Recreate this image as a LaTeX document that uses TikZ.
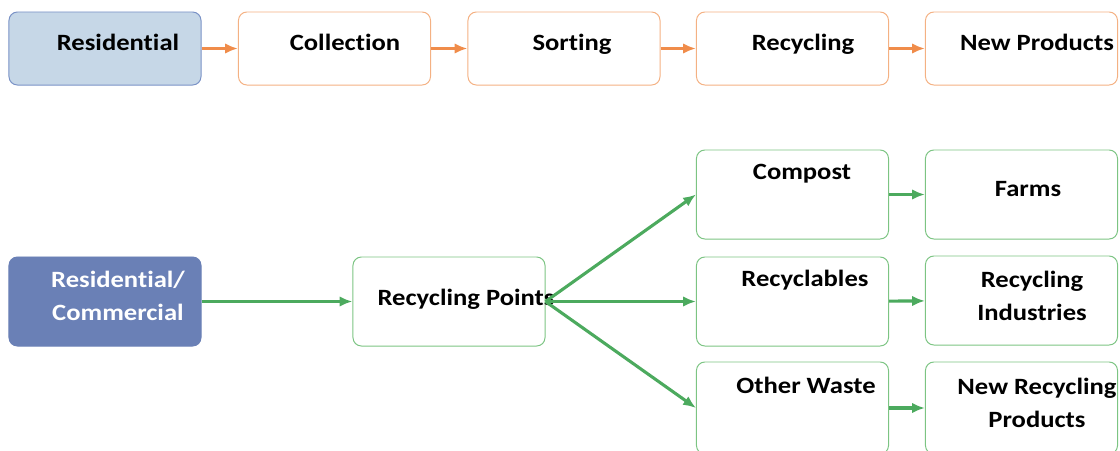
\documentclass[tikz,border=0pt]{standalone}
\usepackage{fontspec}
\setmainfont{Carlito}[FakeStretch=1.14, Ligatures=NoCommon]
\usepackage{tikz}
\usetikzlibrary{arrows.meta,positioning,calc}
\definecolor{boxorange}{HTML}{F4B183}
\definecolor{arrorange}{HTML}{F08C4A}
\definecolor{boxgreen}{HTML}{7CC483}
\definecolor{arrgreen}{HTML}{4CAA5E}
\definecolor{lightblue}{HTML}{C6D7E7}
\definecolor{boxblue}{HTML}{7A92C6}
\definecolor{darkblue}{HTML}{6A80B6}

\begin{document}
\begin{tikzpicture}[
  x=0.025cm, y=-0.025cm,
  font=\fontsize{16.6}{23.5}\selectfont\bfseries,
  box/.style={draw, rounded corners=6pt, line width=0.7pt, minimum width=4.8cm, inner sep=0pt},
  topbox/.style={box, draw=boxorange, minimum height=1.825cm},
  lowbox/.style={box, draw=boxgreen, minimum height=2.225cm},
  arr/.style={-{Latex[length=3.2mm, width=2.6mm]}, line width=2.2pt},
  orarr/.style={arr, arrorange},
  grarr/.style={arr, arrgreen},
  txt/.style={align=center, inner sep=0pt, text height=11pt, text depth=3.6pt},
  twoline/.style={align=center, inner sep=0pt},
]
\useasboundingbox (0,0) rectangle (1120,450);
\clip (0,0) rectangle (1120,450);

% top row
\node[topbox, draw=boxblue, fill=lightblue] (res) at (105,48.5) {};
\node[topbox] (coll) at (334.5,48.5) {};
\node[topbox] (sort) at (564,48.5) {};
\node[topbox] (recy) at (792.5,48.5) {};
\node[topbox] (newp) at (1021.5,48.5) {};
\node[txt] (tres) at (118,45) {Residential};
\node[txt] (tcoll) at (345,45) {Collection};
\node[txt] (tsort) at (572,45) {Sorting};
\node[txt] (trecy) at (803,45) {Recycling};
\node[txt] (tnewp) at (1037,45) {New Products};

\draw[orarr] (res) -- (coll);
\draw[orarr] (coll) -- (sort);
\draw[orarr] (sort) -- (recy);
\draw[orarr] (recy) -- (newp);

% bottom part
\node[lowbox, draw=darkblue, fill=darkblue] (rescom) at (105,301.5) {};
\node[lowbox] (rpts) at (449,301.5) {};
\node[lowbox] (comp) at (792.5,194.5) {};
\node[lowbox] (farm) at (1021.5,194.5) {};
\node[lowbox] (rcyl) at (792.5,301.5) {};
\node[lowbox] (rind) at (1021.5,300.5) {};
\node[lowbox, minimum height=2.3cm] (oth) at (792.5,408) {};
\node[lowbox, minimum height=2.3cm] (nrp) at (1021.5,408) {};

\node[twoline, text=white] (trescom) at (118,296) {Residential/\\Commercial};
\node[txt] (trpts) at (466,300) {Recycling Points};
\node[txt] (tcomp) at (802,174) {Compost};
\node[txt] (tfarm) at (1028,191) {Farms};
\node[txt] (trcyl) at (805,281) {Recyclables};
\node[twoline] (trind) at (1032,296) {Recycling\\Industries};
\node[txt] (toth) at (806,388) {Other Waste};
\node[twoline] (tnrp) at (1037,403) {New Recycling\\Products};

\draw[grarr] (rescom) -- (rpts);
\draw[grarr] (rpts.east) -- (comp.west);
\draw[grarr] (rpts.east) -- (rcyl.west);
\draw[grarr] (rpts.east) -- (oth.west);
\draw[grarr] (comp) -- (farm);
\draw[grarr] (rcyl) -- (rind);
\draw[grarr] (oth) -- (oth -| nrp.west);
\end{tikzpicture}
\end{document}
